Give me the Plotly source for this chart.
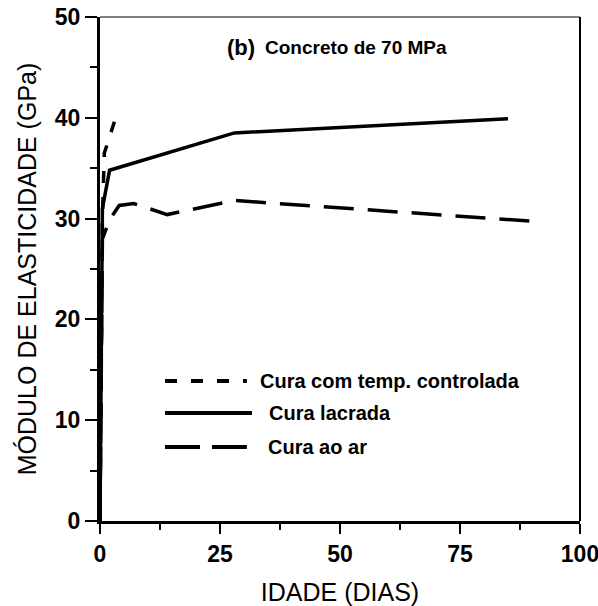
import plotly.graph_objects as go

# Data (age in days, modulus in GPa)
temp_x = [0, 0.5, 0.9, 3]
temp_y = [0, 30, 36.5, 39.6]

sealed_x = [0, 0.5, 2, 28, 85]
sealed_y = [0, 31, 34.8, 38.5, 39.9]

air_x = [0, 0.5, 2, 4, 7, 14, 28, 91]
air_y = [0, 28, 29.9, 31.3, 31.5, 30.4, 31.8, 29.7]

legend_labels = ["Cura com temp. controlada", "Cura lacrada", "Cura ao ar"]

x_ticks = [0, 25, 50, 75, 100]
y_ticks = [0, 10, 20, 30, 40, 50]

FONT = "Liberation Sans, Arial, sans-serif"

fig = go.Figure()
fig.add_trace(go.Scatter(x=temp_x, y=temp_y, mode="lines",
                         line=dict(color="black", width=3.5, dash="12px,14px"),
                         showlegend=False, cliponaxis=False))
fig.add_trace(go.Scatter(x=sealed_x, y=sealed_y, mode="lines",
                         line=dict(color="black", width=3.5),
                         showlegend=False, cliponaxis=False))
fig.add_trace(go.Scatter(x=air_x, y=air_y, mode="lines",
                         line=dict(color="black", width=3.5, dash="30px,14px"),
                         showlegend=False, cliponaxis=False))

# manual legend (paper coordinates)
leg_rows = [
    (0.2778, 0.306, "12px,14px", 0.329),
    (0.2143, 0.3167, "solid", 0.348),
    (0.1468, 0.306, "35px,12px", 0.346),
]
shapes = []
annotations = []
for (yy, x1, dash, tx), label in zip(leg_rows, legend_labels):
    shapes.append(dict(type="line", xref="paper", yref="paper",
                       x0=0.1354, x1=x1, y0=yy, y1=yy,
                       line=dict(color="black", width=4, dash=dash)))
    annotations.append(dict(xref="paper", yref="paper", x=tx, y=yy,
                            xanchor="left", yanchor="middle", showarrow=False,
                            text=label,
                            font=dict(family=FONT, size=20, color="black", weight="bold")))

# frame top & right
shapes.append(dict(type="line", xref="paper", yref="paper", x0=0, x1=1, y0=1, y1=1,
                   line=dict(color="black", width=1)))
shapes.append(dict(type="line", xref="paper", yref="paper", x0=1, x1=1, y0=0, y1=1,
                   line=dict(color="black", width=2)))

annotations.append(dict(xref="paper", yref="paper", x=0.26, y=0.94,
                        xanchor="left", yanchor="middle", showarrow=False,
                        text="<b>(b)</b>",
                        font=dict(family=FONT, size=22, color="black")))
annotations.append(dict(xref="paper", yref="paper", x=0.3396, y=0.94,
                        xanchor="left", yanchor="middle", showarrow=False,
                        text="<b>Concreto de 70 MPa</b>",
                        font=dict(family=FONT, size=19, color="black")))

fig.update_layout(
    width=598, height=606,
    margin=dict(l=100, r=18, t=17, b=85, autoexpand=False),
    paper_bgcolor="white", plot_bgcolor="white",
    shapes=shapes, annotations=annotations,
    xaxis=dict(range=[0, 100], tickvals=x_ticks, ticks="outside", ticklen=10, tickwidth=2,
               tickcolor="black", showline=True, linecolor="black", linewidth=3,
               showgrid=False, zeroline=False, automargin=False,
               ticklabeloverflow="allow",
               minor=dict(dtick=12.5, tick0=0, ticks="outside", ticklen=6, tickwidth=2,
                          tickcolor="black", showgrid=False),
               tickfont=dict(family=FONT, size=23, color="black", weight="bold"),
               title=dict(text="IDADE (DIAS)", standoff=19,
                          font=dict(family=FONT, size=25, color="black"))),
    yaxis=dict(range=[0, 50], tickvals=y_ticks, ticks="outside", ticklen=12, tickwidth=2,
               tickcolor="black", showline=True, linecolor="black", linewidth=3,
               showgrid=False, zeroline=False, automargin=False,
               ticklabeloverflow="allow",
               minor=dict(dtick=5, tick0=0, ticks="outside", ticklen=7, tickwidth=2,
                          tickcolor="black", showgrid=False),
               tickfont=dict(family=FONT, size=23, color="black", weight="bold"),
               title=dict(text="MÓDULO DE ELASTICIDADE (GPa)", standoff=12,
                          font=dict(family=FONT, size=25, color="black"))),
)

fig.write_html("out.html")
